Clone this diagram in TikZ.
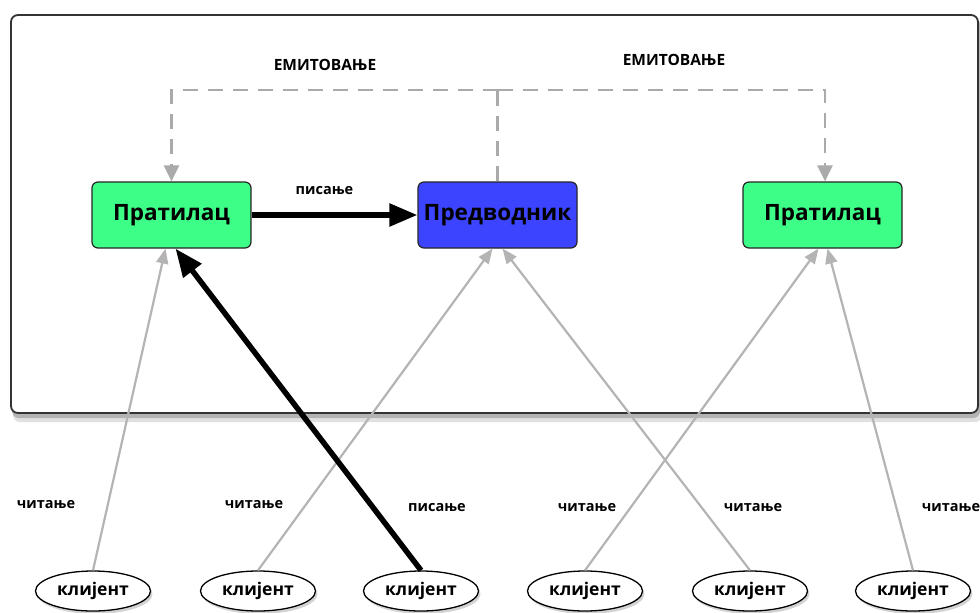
\documentclass[tikz,border=0pt]{standalone}
\usepackage{fontspec}
\setmainfont{Open Sans}
\usetikzlibrary{arrows.meta,shadows,shapes.geometric}
\definecolor{fgreen}{HTML}{3DFF88}
\definecolor{fblue}{HTML}{3D44FF}
\definecolor{lgray}{HTML}{B4B4B4}
\definecolor{dgray}{HTML}{AAAAAA}
\tikzset{
  rolebox/.style={draw=black!85, line width=1.2pt, rounded corners=6pt, minimum width=159pt, minimum height=66pt, inner sep=0pt, font=\fontsize{22.5}{25}\selectfont\bfseries},
  client/.style={ellipse, draw=black, line width=1.3pt, fill=white, minimum width=115pt, minimum height=40pt, inner sep=0pt, font=\fontsize{17.5}{19}\selectfont\bfseries, drop shadow={shadow xshift=2pt, shadow yshift=-3pt, opacity=0.35}},
  smalllbl/.style={font=\fontsize{14.5}{16}\selectfont\bfseries, inner sep=0pt},
  caplbl/.style={font=\fontsize{15.5}{17}\selectfont\bfseries, inner sep=0pt},
  readarr/.style={draw=lgray, line width=2.2pt, -{Triangle[length=15pt,width=12pt]}},
  writearr/.style={draw=black, line width=5.5pt, -{Triangle[length=28pt,width=22pt]}},
  emitline/.style={draw=dgray, line width=2.6pt, dash pattern=on 15pt off 10pt},
  emitarr/.style={emitline, -{Triangle[length=16pt,width=15pt]}},
}
\begin{document}
\begin{tikzpicture}[x=1pt,y=-1pt]
\useasboundingbox (0,0) rectangle (980,613);
% outer frame
\fill[black,opacity=0.12,rounded corners=7pt] (13,20) rectangle (982,422);
\fill[black,opacity=0.2,rounded corners=7pt] (12,18) rectangle (980,418);
\draw[draw=black!80, line width=1.8pt, fill=white, rounded corners=7pt] (11,15) rectangle (978,413);
% role nodes
\node[rolebox, fill=fgreen] (p1) at (171.5,215) {Пратилац};
\node[rolebox, fill=fblue] (lead) at (497.5,215) {Предводник};
\node[rolebox, fill=fgreen] (p2) at (822.5,215) {Пратилац};
% emit lines
\coordinate (tl) at (171.5,90);
\coordinate (tr) at (825,90);
\coordinate (tm) at (497.5,90);
\draw[emitline] (lead.north) -- (tm);
\draw[emitarr] (tm) -- (tl) -- (p1.north);
\draw[emitarr] (tm) -- (tr) -- (p2.north -| tr);
\node[caplbl] (em1) at (325,65) {ЕМИТОВАЊЕ};
\node[caplbl] (em2) at (674,60) {ЕМИТОВАЊЕ};
% write arrow
\draw[writearr] (p1.east) -- (lead.west);
\node[smalllbl] (w1) at (324.5,191) {писање};
% clients
\node[client] (c1) at (93,591) {клијент};
\node[client] (c2) at (258,591) {клијент};
\node[client] (c3) at (421,591) {клијент};
\node[client] (c4) at (585,591) {клијент};
\node[client] (c5) at (750,591) {клијент};
\node[client] (c6) at (913,591) {клијент};
% client arrows
\draw[readarr] (c1.north) -- ([xshift=-6pt]p1.south);
\draw[readarr] (c2.north) -- ([xshift=-5pt]lead.south);
\draw[readarr] (c5.north) -- ([xshift=5pt]lead.south);
\draw[readarr] (c4.north) -- ([xshift=-4pt]p2.south);
\draw[readarr] (c6.north) -- ([xshift=5pt]p2.south);
\draw[writearr] (c3.north) -- ([xshift=4pt]p1.south);
% labels
\node[smalllbl] (r1) at (46,505) {читање};
\node[smalllbl] (r2) at (254,505) {читање};
\node[smalllbl] (w2) at (437,508) {писање};
\node[smalllbl] (r4) at (587,508) {читање};
\node[smalllbl] (r5) at (753,508) {читање};
\node[smalllbl] (r6) at (951,508) {читање};
\end{tikzpicture}
\end{document}
